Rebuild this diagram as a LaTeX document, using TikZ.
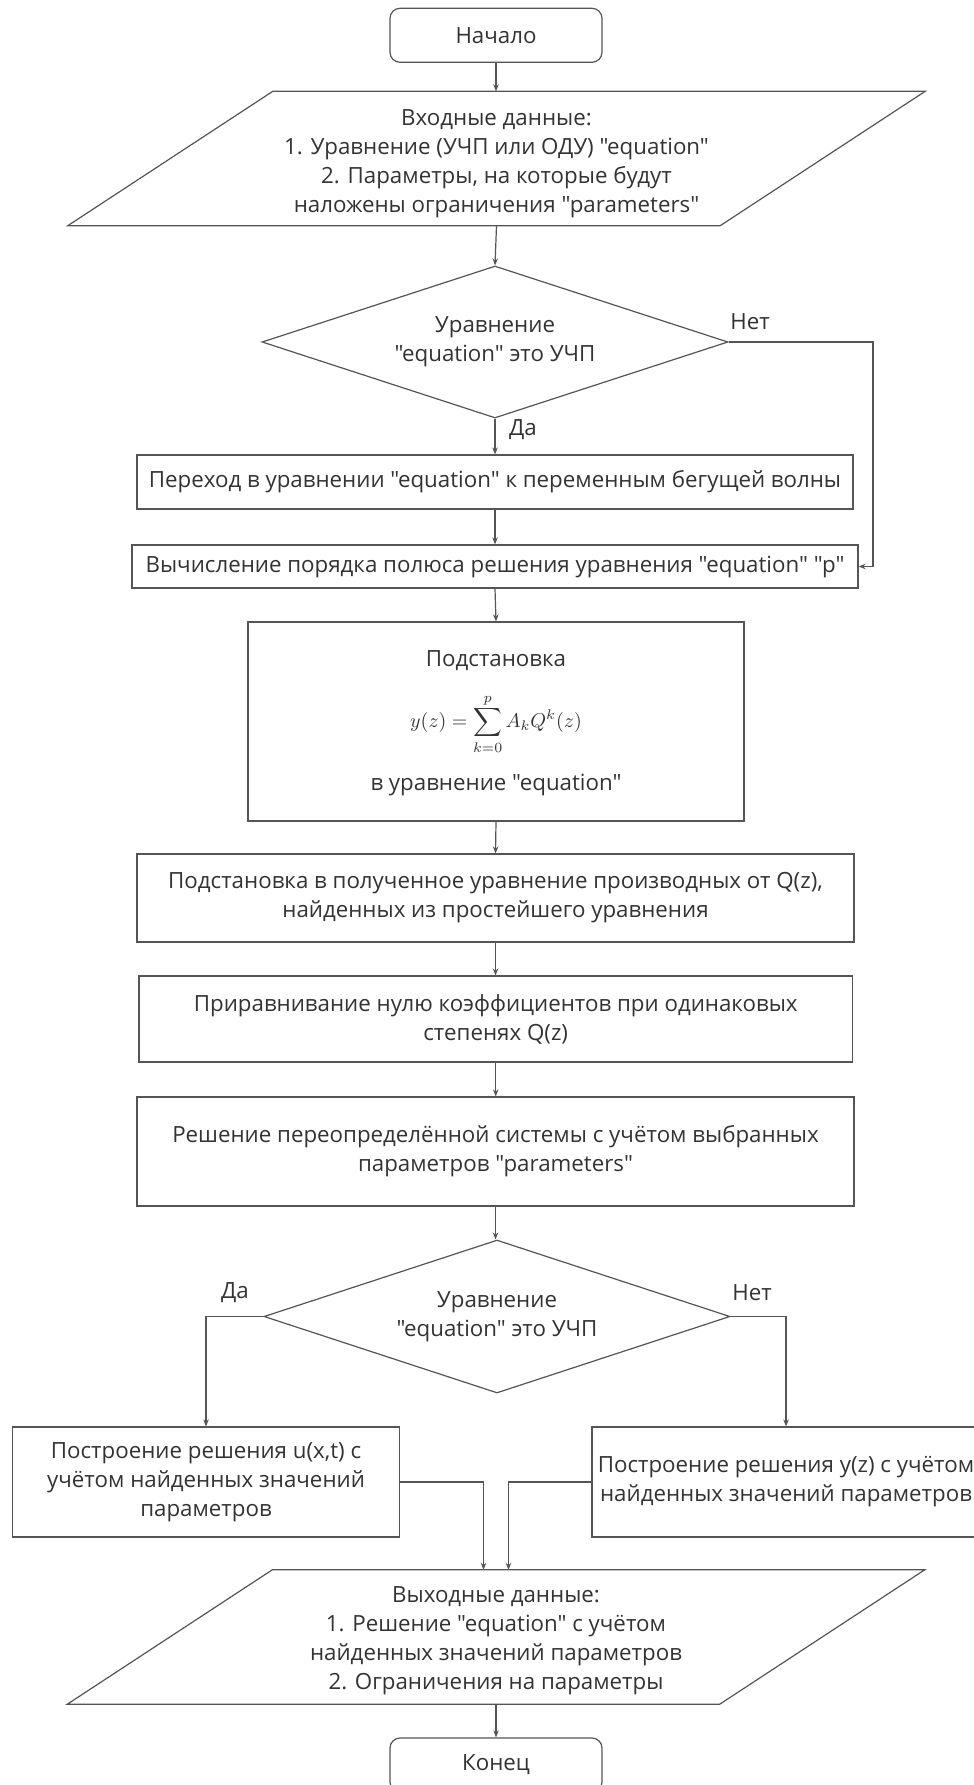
\documentclass[tikz,border=0pt]{standalone}
\usepackage{amsmath}
\usepackage{fontspec}
\setmainfont{Open Sans}[Ligatures=TeXOff]
\usetikzlibrary{arrows.meta,shapes.geometric}
\definecolor{ln}{HTML}{555555}
\definecolor{tx}{HTML}{333333}
\begin{document}
\begin{tikzpicture}[x=1pt,y=-1pt,
  lbl/.style={text=tx,font=\fontsize{22.3pt}{29pt}\selectfont,align=center,inner sep=0pt},
  box/.style={draw=ln,line width=1.2pt,inner sep=0pt,text=tx,font=\fontsize{22.3pt}{29pt}\selectfont,align=center},
  term/.style={box,rounded corners=10pt},
  dec/.style={box,diamond,aspect=3.06},
  ghost/.style={inner sep=0pt},
  conn/.style={draw=ln,line width=1.2pt,-{Stealth[length=7pt,width=5.5pt]}},
  edge/.style={draw=ln,line width=1.2pt,line join=miter}]
\useasboundingbox (0,0) rectangle (974,1785);
\fill[white] (0,0) rectangle (974,1785);

% start
\node[term,minimum width=212,minimum height=54] (start) at (496,35.3) {Начало};

% input
\node[ghost,minimum width=652,minimum height=134] (in) at (496.5,158.5) {};
\draw[edge] ([xshift=-102.5]in.south west) -- ([xshift=-102.5]in.south east) -- ([xshift=102.5]in.north east) -- ([xshift=102.5]in.north west) -- cycle;
\node[lbl] (intxt) at (496.5,164) {Входные данные:\\1. Уравнение (УЧП или ОДУ) "equation"\\2. Параметры, на которые будут\\наложены ограничения "parameters"};

% decision 1
\node[dec,minimum width=466,minimum height=152] (d1) at (495,342) {Уравнение\\"equation" это УЧП};

\node[box,minimum width=716,minimum height=54] (p1) at (495,482) {Переход в уравнении "equation" к переменным бегущей волны};
\node[box,minimum width=726,minimum height=43] (p2) at (495,566.5) {Вычисление порядка полюса решения уравнения "equation" "p"};

\node[box,minimum width=496,minimum height=199] (p3) at (496,721.5) {};
\node[lbl] (p3a) at (496,661) {Подстановка};
\node[lbl,font=\fontsize{10pt}{12pt}\selectfont,scale=2.0,transform shape] (p3b) at (496,724) {$\displaystyle y(z)=\sum_{k=0}^{p}A_kQ^k(z)$};
\node[lbl] (p3c) at (496,785) {в уравнение "equation"};

\node[box,minimum width=717,minimum height=88] (p4) at (495.5,898) {Подстановка в полученное уравнение производных от Q(z),\\найденных из простейшего уравнения};
\node[box,minimum width=713.5,minimum height=86] (p5) at (495.7,1019) {Приравнивание нулю коэффициентов при одинаковых\\степенях Q(z)};
\node[box,minimum width=717,minimum height=109] (p6) at (495.5,1151.5) {Решение переопределённой системы с учётом выбранных\\параметров "parameters"};

% decision 2
\node[dec,minimum width=466,minimum height=153] (d2) at (497,1316.5) {Уравнение\\"equation" это УЧП};

\node[box,minimum width=387,minimum height=110] (L) at (206,1482) {Построение решения u(x,t) с\\учётом найденных значений\\параметров};
\node[box,minimum width=388,minimum height=110] (R) at (786,1482) {Построение решения y(z) с учётом\\найденных значений параметров};

% output
\node[ghost,minimum width=652,minimum height=134] (out) at (496,1637) {};
\draw[edge] ([xshift=-102.5]out.south west) -- ([xshift=-102.5]out.south east) -- ([xshift=102.5]out.north east) -- ([xshift=102.5]out.north west) -- cycle;
\node[lbl] (outtxt) at (496,1641) {Выходные данные:\\1. Решение "equation" с учётом\\найденных значений параметров\\2. Ограничения на параметры};

\node[term,minimum width=212,minimum height=54] (end) at (496,1765) {Конец};

% labels
\node[lbl] (no1) at (750,322) {Нет};
\node[lbl] (yes1) at (523,430) {Да};
\node[lbl] (yes2) at (235,1293) {Да};
\node[lbl] (no2) at (752,1293) {Нет};

% connectors
\draw[conn] (start.south) -- (start.south |- in.north);
\draw[conn] (in.south) -- (d1.north);
\draw[conn] (d1.south) -- (p1.north);
\coordinate (c1) at (873,342);
\draw[conn] (d1.east) -- (c1) |- (p2.east);
\draw[conn] (p1.south) -- (p2.north);
\draw[conn] (p2.south) -- (p3.north);
\draw[conn] (p3.south) -- (p4.north);
\draw[conn] (p4.south) -- (p4.south |- p5.north);
\draw[conn] (p5.south) -- (p5.south |- p6.north);
\draw[conn] (p6.south) -- (p6.south |- d2.north);
\draw[conn] (d2.west) -| (L.north);
\draw[conn] (d2.east) -| (R.north);
\draw[conn] (L.east) -| ([xshift=-12.5]out.north);
\draw[conn] (R.west) -| ([xshift=12.5]out.north);
\draw[conn] (out.south) -- (end.north);
\end{tikzpicture}
\end{document}
